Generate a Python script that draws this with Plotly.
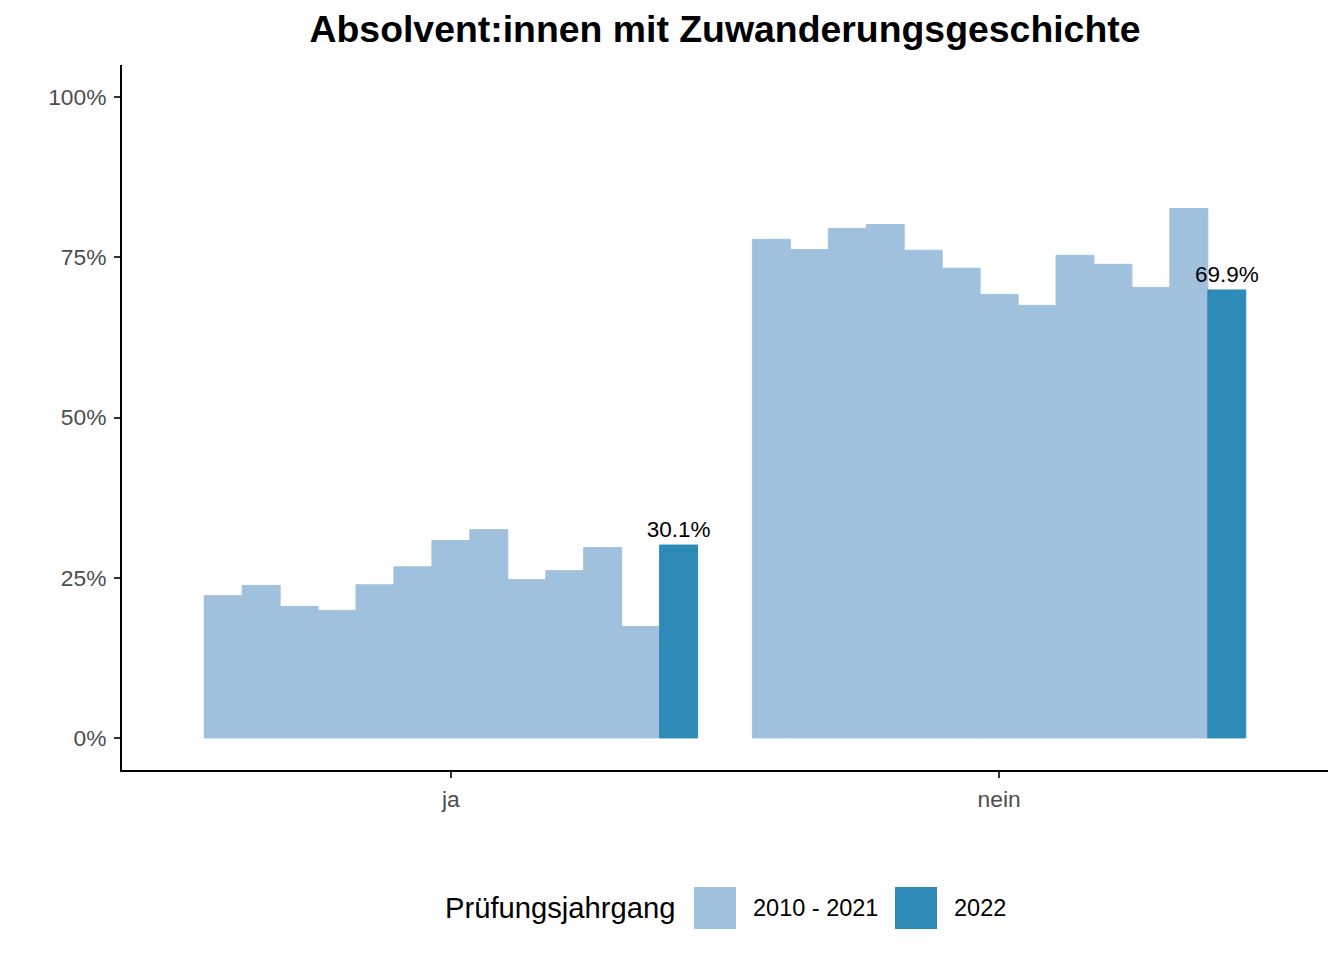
import plotly.graph_objects as go

categories = ["ja", "nein"]
years = [str(y) for y in range(2010, 2023)]
ja = [22.2, 23.8, 20.5, 19.9, 23.9, 26.7, 30.8, 32.5, 24.7, 26.1, 29.7, 17.4, 30.1]
nein = [77.8, 76.2, 79.5, 80.1, 76.1, 73.3, 69.2, 67.5, 75.3, 73.9, 70.3, 82.6, 69.9]
y_ticks = [0, 25, 50, 75, 100]
y_ticktext = ["0%", "25%", "50%", "75%", "100%"]
legend_labels = ["2010 - 2021", "2022"]

light = "#a0c1de"
dark = "#2e8bb8"
FONT = "Liberation Sans, Arial, Helvetica, sans-serif"

W, H = 1328, 944
L, R, T, B = 114, 8, 57, 182
PW, PH = W - L - R, H - T - B


def px(fx):
    return (fx - L) / PW


def py(fy):
    return (H - B - fy) / PH


fig = go.Figure()
for i, yr in enumerate(years):
    last = i == len(years) - 1
    col = dark if last else light
    fig.add_trace(go.Bar(
        x=categories,
        y=[ja[i], nein[i]],
        name=legend_labels[1] if last else legend_labels[0],
        showlegend=False,
        marker=dict(color=col, line=dict(width=1, color=col)),
        text=[f"{ja[i]:.1f}%", f"{nein[i]:.1f}%"] if last else None,
        textposition="outside" if last else None,
        constraintext="none",
        textfont=dict(size=22.5, color="black", family=FONT),
        cliponaxis=False,
        hovertemplate=f"{yr}: %{{y:.1f}}%<extra></extra>",
    ))

# legend (ggplot-style, large square keys)
shapes = []
annotations = [dict(text="Prüfungsjahrgang", xref="paper", yref="paper",
                    x=px(669), y=py(900), xanchor="right", yanchor="middle",
                    showarrow=False, font=dict(size=29.2, color="black", family=FONT))]
for k, (lab, col) in enumerate(zip(legend_labels, [light, dark])):
    x0 = 686 + k * 201
    shapes.append(dict(type="rect", xref="paper", yref="paper",
                       x0=px(x0), x1=px(x0 + 42), y0=py(879), y1=py(921),
                       fillcolor=col, line=dict(width=0)))
    annotations.append(dict(text=lab, xref="paper", yref="paper",
                            x=px(x0 + 57), y=py(900), xanchor="left", yanchor="middle",
                            showarrow=False, font=dict(size=23.5, color="black", family=FONT)))

fig.update_layout(
    width=W, height=H,
    barmode="group", bargap=0.1, bargroupgap=0,
    plot_bgcolor="white", paper_bgcolor="white",
    margin=dict(l=L, r=R, t=T, b=B),
    font=dict(family=FONT, color="#4d4d4d"),
    title=dict(text="<b>Absolvent:innen mit Zuwanderungsgeschichte</b>",
               x=0.5, xref="paper", xanchor="center", y=1 - 21 / H, yanchor="middle",
               yref="container", font=dict(size=37.4, color="black", family=FONT)),
    showlegend=False,
    shapes=shapes,
    annotations=annotations,
)
fig.update_yaxes(range=[-5, 105], tickvals=y_ticks, ticktext=y_ticktext,
                 showgrid=False, zeroline=False, showline=True, linecolor="black",
                 linewidth=2, ticks="outside", ticklen=6, tickwidth=2, tickcolor="#333333",
                 tickfont=dict(size=22.8, color="#4d4d4d"), ticklabelstandoff=3)
fig.update_xaxes(range=[-0.6, 1.6], showgrid=False, zeroline=False, showline=True,
                 linecolor="black", linewidth=2, ticks="outside", ticklen=6, tickwidth=2,
                 tickcolor="#333333", tickfont=dict(size=22.8, color="#4d4d4d"),
                 ticklabelstandoff=2)

fig.write_html("out.html")
